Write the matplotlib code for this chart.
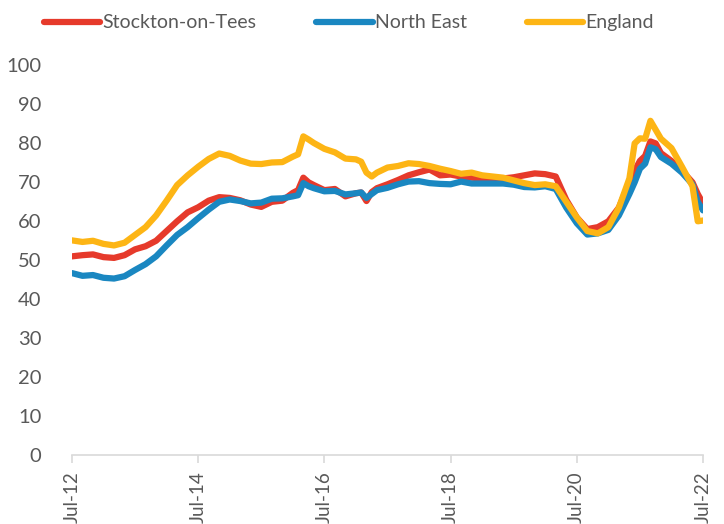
import matplotlib
matplotlib.use("Agg")
import matplotlib.pyplot as plt

# months since Jul-12 (2-monthly, with extra points around sharp moves)
months = [0, 2, 4, 6, 8, 10, 12, 14, 16, 18, 20, 22, 24, 26, 28, 30, 32, 34, 36, 38,
          40, 42, 43, 44, 45, 46, 48, 50, 52, 54, 55, 56, 57, 58, 60, 62, 64, 66, 68, 70,
          72, 74, 76, 78, 80, 82, 84, 86, 88, 90, 92, 94, 96, 98, 100, 102, 104, 106, 107, 108,
          109, 110, 111, 112, 114, 116, 118, 119, 120]

stockton = [51.0, 51.3, 51.5, 50.8, 50.6, 51.3, 52.8, 53.6, 55.0, 57.5, 60.0, 62.3, 63.6, 65.3, 66.2, 66.0, 65.4, 64.3, 63.7, 65.0,
            65.3, 67.3, 68.0, 71.2, 70.0, 69.3, 68.0, 68.3, 66.4, 67.2, 67.4, 65.2, 67.5, 68.5, 69.5, 70.6, 71.8, 72.6, 73.3, 71.8,
            72.0, 71.5, 71.2, 71.0, 71.0, 71.0, 71.3, 71.8, 72.3, 72.1, 71.5, 65.5, 61.0, 58.0, 58.5, 60.0, 63.5, 70.0, 73.0, 75.5,
            76.8, 80.5, 80.0, 77.5, 75.5, 73.0, 70.0, 67.0, 64.6]

north_east = [46.7, 46.0, 46.2, 45.5, 45.3, 45.9, 47.5, 49.0, 51.0, 53.8, 56.5, 58.5, 60.8, 63.0, 65.0, 65.6, 65.2, 64.6, 64.8, 65.8,
              65.9, 66.4, 66.7, 69.8, 69.0, 68.5, 67.7, 67.8, 66.9, 67.2, 67.4, 66.0, 67.0, 68.0, 68.6, 69.5, 70.2, 70.3, 69.8, 69.6,
              69.5, 70.2, 69.7, 69.7, 69.7, 69.7, 69.4, 68.8, 68.7, 69.0, 68.3, 63.5, 59.5, 56.6, 56.9, 57.8, 61.5, 67.0, 70.0, 73.5,
              74.8, 79.0, 78.5, 76.5, 74.8, 72.5, 69.5, 65.0, 62.8]

england = [55.1, 54.7, 55.0, 54.2, 53.8, 54.5, 56.5, 58.5, 61.5, 65.3, 69.3, 71.8, 74.0, 76.0, 77.4, 76.8, 75.6, 74.8, 74.7, 75.1,
           75.2, 76.6, 77.2, 81.8, 81.0, 80.1, 78.6, 77.7, 76.1, 75.9, 75.3, 72.5, 71.5, 72.5, 73.8, 74.2, 74.9, 74.7, 74.2, 73.5,
           72.9, 72.2, 72.5, 71.8, 71.5, 71.2, 70.5, 69.8, 69.3, 69.5, 69.0, 65.0, 61.0, 57.5, 56.9, 58.5, 63.5, 71.0, 80.0, 81.3,
           81.2, 85.8, 83.5, 81.2, 78.8, 74.0, 69.0, 60.0, 60.2]

tick_months = [0, 24, 48, 72, 96, 120]
tick_labels = ["Jul-12", "Jul-14", "Jul-16", "Jul-18", "Jul-20", "Jul-22"]

plt.rcParams['font.family'] = ['Lato', 'DejaVu Sans']
grey = '#595959'

fig = plt.figure(figsize=(7.24, 5.24), dpi=100)
ax = fig.add_axes([0.0994, 0.1317, 0.8716, 0.7433])

ax.plot(months, stockton, color='#E63A2B', lw=4.5, label='Stockton-on-Tees', solid_capstyle='round')
ax.plot(months, north_east, color='#1A87C1', lw=4.5, label='North East', solid_capstyle='round')
ax.plot(months, england, color='#FDB515', lw=4.5, label='England', solid_capstyle='round')

ax.set_xlim(0, 120)
ax.set_ylim(0, 100)
ax.set_yticks(range(0, 101, 10))
ax.set_xticks(tick_months)
ax.set_xticklabels(tick_labels, rotation=90)

for s in ['top', 'right', 'left']:
    ax.spines[s].set_visible(False)
ax.spines['bottom'].set_color('#D9D9D9')
ax.spines['bottom'].set_linewidth(1.2)
ax.tick_params(axis='y', length=0, pad=22, labelsize=14.5, labelcolor=grey)
ax.tick_params(axis='x', length=6, width=1.2, color='#D9D9D9', pad=6, labelsize=13.5, labelcolor=grey)

leg = fig.legend(loc='upper left', bbox_to_anchor=(0.036, 1.006), ncol=3, frameon=False,
                 fontsize=14, handlelength=2.9, handletextpad=0.1, columnspacing=3.1)
for t in leg.get_texts():
    t.set_color(grey)

fig.savefig('out.png', dpi=100)
